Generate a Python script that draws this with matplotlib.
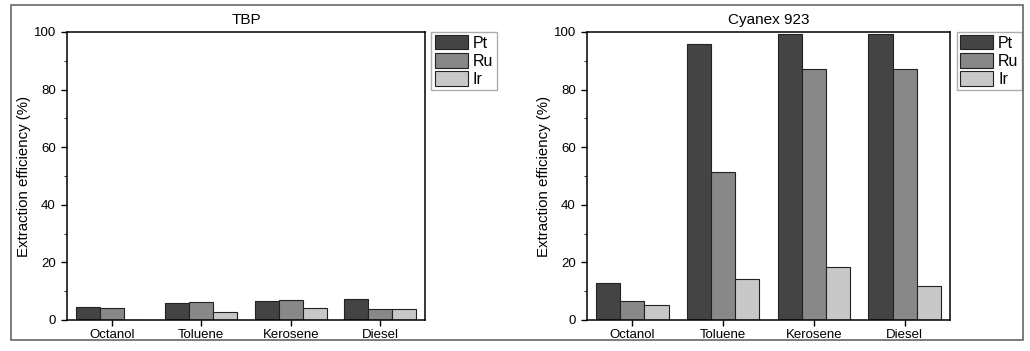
import matplotlib.pyplot as plt
import matplotlib.patches as mpatches
import numpy as np

plt.rcParams['font.family'] = ['Liberation Sans', 'DejaVu Sans']

solvents = ['Octanol', 'Toluene', 'Kerosene', 'Diesel']
metals = ['Pt', 'Ru', 'Ir']

# TBP
tbp_pt = [4.6, 6.0, 6.7, 7.3]
tbp_ru = [4.3, 6.1, 6.8, 3.8]
tbp_ir = [0.0, 2.7, 4.2, 3.8]

# Cyanex 923
cy_pt = [12.9, 95.7, 99.4, 99.4]
cy_ru = [6.5, 51.3, 87.0, 87.0]
cy_ir = [5.1, 14.1, 18.5, 11.9]

colors = ['#444444', '#888888', '#c8c8c8']

fig = plt.figure(figsize=(10.30, 3.51), dpi=100)
# outer frame round the whole figure
fig.patches.append(mpatches.Rectangle((11 / 1030, 1 - 340 / 351), 1012 / 1030, 335 / 351,
                                      transform=fig.transFigure, fill=False,
                                      edgecolor='#666666', linewidth=1.2))

ax1 = fig.add_axes([67 / 1030, 1 - 320 / 351, 358 / 1030, 288 / 351])
ax2 = fig.add_axes([587 / 1030, 1 - 320 / 351, 363 / 1030, 288 / 351])

x = np.arange(1, len(solvents) + 1)
w = 0.8 / 3


def draw(ax, vals, title):
    for i, (v, c) in enumerate(zip(vals, colors)):
        ax.bar(x + (i - 1) * w, v, w, color=c, edgecolor='#222222', linewidth=0.8, label=metals[i])
    ax.set_xlim(0.5, 4.5)
    ax.set_ylim(0, 100)
    ax.set_xticks(x)
    ax.set_xticklabels(solvents)
    ax.set_yticks(np.arange(0, 101, 20))
    ax.set_yticks(np.arange(10, 100, 20), minor=True)
    ax.tick_params(axis='both', direction='out', labelsize=9.5, width=1, length=4.5)
    ax.tick_params(axis='x', pad=2)
    ax.tick_params(axis='y', which='minor', direction='out', length=2.5)
    ax.set_ylabel('Extraction efficiency (%)', fontsize=10.8, labelpad=2)
    ax.set_title(title, fontsize=11, pad=6)
    for s in ax.spines.values():
        s.set_linewidth(1.1)
    ax.legend(loc='upper left', bbox_to_anchor=(1.018, 1.0), fontsize=11.5,
              frameon=True, fancybox=False, edgecolor='#999999',
              handlelength=2.1, handleheight=1.0, handletextpad=0.3,
              labelspacing=0.15, borderpad=0.2, borderaxespad=0)


draw(ax1, [tbp_pt, tbp_ru, tbp_ir], 'TBP')
draw(ax2, [cy_pt, cy_ru, cy_ir], 'Cyanex 923')

fig.savefig('out.png', dpi=100)
